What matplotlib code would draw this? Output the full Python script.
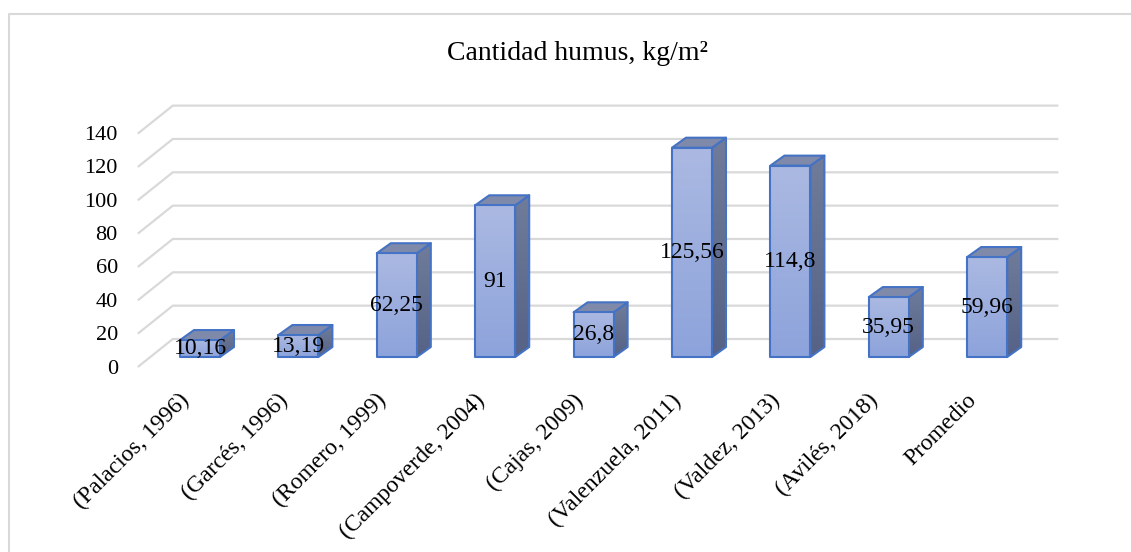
import matplotlib.pyplot as plt
import numpy as np
from matplotlib.patches import Polygon, Rectangle
from matplotlib.lines import Line2D

# humus per study, kg/m2
studies = ['(Palacios, 1996)', '(Garcés, 1996)', '(Romero, 1999)', '(Campoverde, 2004)',
           '(Cajas, 2009)', '(Valenzuela, 2011)', '(Valdez, 2013)', '(Avilés, 2018)', 'Promedio']
humus = [10.16, 13.19, 62.25, 91, 26.8, 125.56, 114.8, 35.95, 59.96]
yticks = [0, 20, 40, 60, 80, 100, 120, 140]
title = 'Cantidad humus, kg/m²'

W, H = 1131, 552
CAT_PX = 98.4      # pixels per category
VAL_PX = 1.667     # pixels per kg/m2
X0_PX, Y0_PX = 200, 357   # pixel spot of category 0 / value 0 on the bar front plane

def dx(p):
    return p / CAT_PX

def dy(p):
    return p / VAL_PX

FONT = 'Liberation Serif'
EDGE = '#4472C4'
GRID = '#D9D9D9'

fig = plt.figure(figsize=(W / 100, H / 100), dpi=100)
ax = fig.add_axes([0, 0, 1, 1])
ax.set_axis_off()
xlim = (-X0_PX / CAT_PX, (W - X0_PX) / CAT_PX)
ylim = ((Y0_PX - H) / VAL_PX, Y0_PX / VAL_PX)

# oblique offsets: floor front edge, back wall, bar depth
front = (dx(-13), dy(-10))
back = (dx(22), dy(18))
depth = (dx(14), dy(10))
bw = dx(40)
n = len(humus)
left, right = -0.5, n - 0.5

for v in yticks:
    xs = [left + front[0], left + back[0], right + back[0]]
    ys = [v + front[1], v + back[1], v + back[1]]
    ax.plot(xs, ys, color=GRID, lw=1.6, solid_capstyle='butt', zorder=1)
    ax.text(left + front[0] - dx(20), v + front[1] - dy(2), str(v), ha='right', va='center',
            fontsize=16, family=FONT)

def gradient(x0, x1, y0, y1, top, bottom, clip, z):
    c = np.array([top, bottom]) / 255.0
    t = np.linspace(0, 1, 64)[:, None]
    img = (c[0] * (1 - t) + c[1] * t)[:, None, :]
    im = ax.imshow(img, extent=(x0, x1, y0, y1), origin='upper', aspect='auto',
                   interpolation='bilinear', zorder=z)
    im.set_clip_path(clip)

for i, v in enumerate(humus):
    x0, x1 = i - bw / 2, i + bw / 2
    z = 3 + i
    side = Polygon([(x1, 0), (x1 + depth[0], depth[1]), (x1 + depth[0], v + depth[1]), (x1, v)],
                   closed=True, fc='none', ec=EDGE, lw=1.5, joinstyle='round', zorder=z + 0.3)
    ax.add_patch(side)
    gradient(x1, x1 + depth[0], 0, v + depth[1], (112, 124, 154), (86, 98, 134), side, z + 0.2)
    topf = Polygon([(x0, v), (x0 + depth[0], v + depth[1]), (x1 + depth[0], v + depth[1]), (x1, v)],
                   closed=True, fc='#7F8AAB', ec=EDGE, lw=1.5, joinstyle='round', zorder=z + 0.3)
    ax.add_patch(topf)
    face = Rectangle((x0, 0), bw, v, fc='none', ec=EDGE, lw=1.5, joinstyle='round', zorder=z + 0.6)
    ax.add_patch(face)
    gradient(x0, x1, 0, v, (171, 185, 226), (141, 163, 219), face, z + 0.5)
    ax.text(i, v / 2, ('%g' % v).replace('.', ','), ha='center', va='center',
            fontsize=17, family=FONT, zorder=50)
    ax.text(i + dx(-6), dy(-33), studies[i], rotation=45, ha='right', va='top',
            fontsize=17, family=FONT)

ax.set_xlim(*xlim)
ax.set_ylim(*ylim)

fig.text(577 / W, 1 - 54 / H, title, ha='center', va='center', fontsize=20, family=FONT)

# chart area frame (top and left edges)
fig.add_artist(Line2D([8.5 / W, 8.5 / W, 1], [0, 1 - 14 / H, 1 - 14 / H],
                      color=GRID, lw=1.5, transform=fig.transFigure))

fig.savefig('out.png', dpi=100)
